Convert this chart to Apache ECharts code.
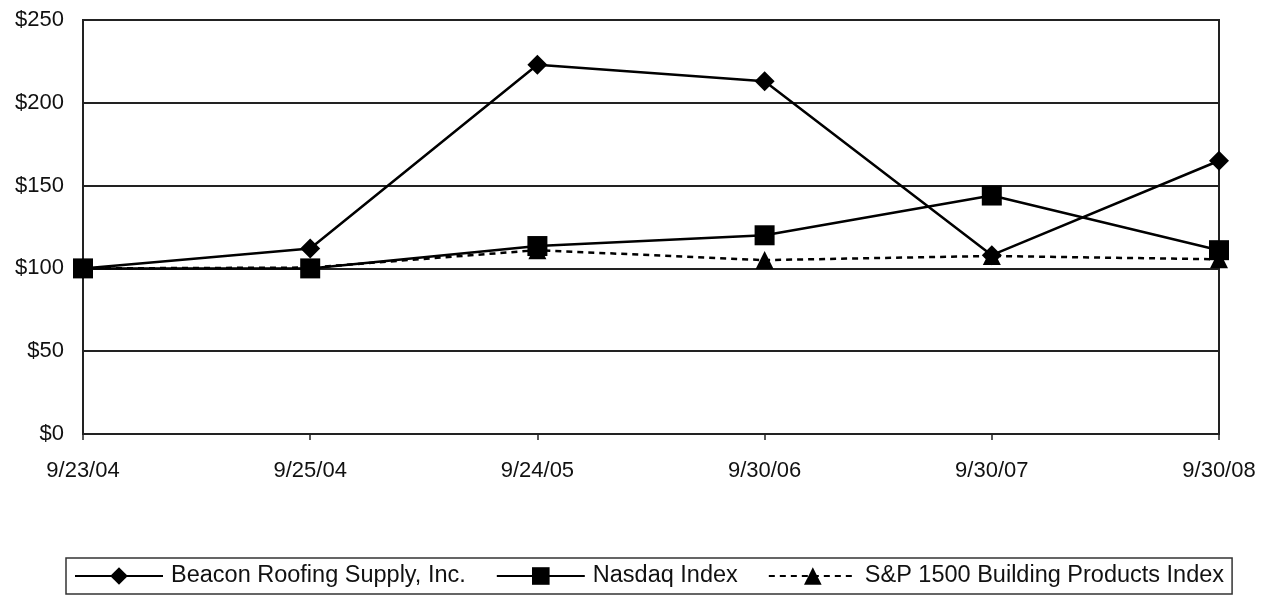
<!DOCTYPE html>
<html>
<head>
<meta charset="utf-8">
<script src="https://cdn.jsdelivr.net/npm/echarts@6/dist/echarts.min.js"></script>
<style>
html,body{margin:0;padding:0;background:#fff;}
#c{width:1271px;height:595px;}
</style>
</head>
<body>
<div id="c"></div>
<script>
const categories = ['9/23/04', '9/25/04', '9/24/05', '9/30/06', '9/30/07', '9/30/08'];
const beacon = [100, 112, 223, 213, 108, 165];
const nasdaq = [100, 100, 113.5, 120, 144, 111];
const sp1500 = [100, 100.5, 111, 105, 107.5, 105.5];
const yTicks = [0, 50, 100, 150, 200, 250];

const FONT = "'Liberation Sans', Arial, sans-serif";
const chart = echarts.init(document.getElementById('c'));
chart.setOption({
  backgroundColor: '#fff',
  animation: false,
  grid: {
    left: 83, right: 52, top: 20, bottom: 161,
    show: true, borderColor: '#222', borderWidth: 2, backgroundColor: 'transparent'
  },
  xAxis: {
    type: 'category',
    data: categories,
    boundaryGap: false,
    axisLine: { show: true, lineStyle: { color: '#222', width: 2 } },
    axisTick: { show: true, length: 6, lineStyle: { color: '#222', width: 1.5 } },
    axisLabel: { color: '#111', fontFamily: FONT, fontSize: 22, margin: 26 }
  },
  yAxis: {
    type: 'value',
    min: yTicks[0],
    max: yTicks[yTicks.length - 1],
    interval: 50,
    axisLine: { show: true, lineStyle: { color: '#222', width: 2 } },
    axisTick: { show: false },
    splitLine: { show: true, lineStyle: { color: '#222', width: 2 } },
    axisLabel: {
      color: '#111', fontFamily: FONT, fontSize: 22, margin: 19,
      formatter: v => '$' + v
    }
  },
  legend: {
    left: 66, top: 558,
    padding: [6, 8, 6, 8],
    borderColor: '#333', borderWidth: 1.5,
    itemWidth: 88, itemHeight: 22, itemGap: 30,
    textStyle: { color: '#111', fontFamily: FONT, fontSize: 23.5, padding: [0, 0, 0, 3] },
    data: ['Beacon Roofing Supply, Inc.', 'Nasdaq Index', 'S&P 1500 Building Products Index']
  },
  series: [
    {
      name: 'Beacon Roofing Supply, Inc.',
      type: 'line',
      data: beacon,
      symbol: 'diamond', symbolSize: 20,
      itemStyle: { color: '#000' },
      lineStyle: { color: '#000', width: 2.5 },
      z: 4
    },
    {
      name: 'Nasdaq Index',
      type: 'line',
      data: nasdaq,
      symbol: 'rect', symbolSize: 20,
      itemStyle: { color: '#000' },
      lineStyle: { color: '#000', width: 2.5 },
      z: 3
    },
    {
      name: 'S&P 1500 Building Products Index',
      type: 'line',
      data: sp1500,
      symbol: 'triangle', symbolSize: 18,
      itemStyle: { color: '#000' },
      lineStyle: { color: '#000', width: 2.5, type: [6, 5] },
      z: 2
    }
  ]
});
</script>
</body>
</html>
